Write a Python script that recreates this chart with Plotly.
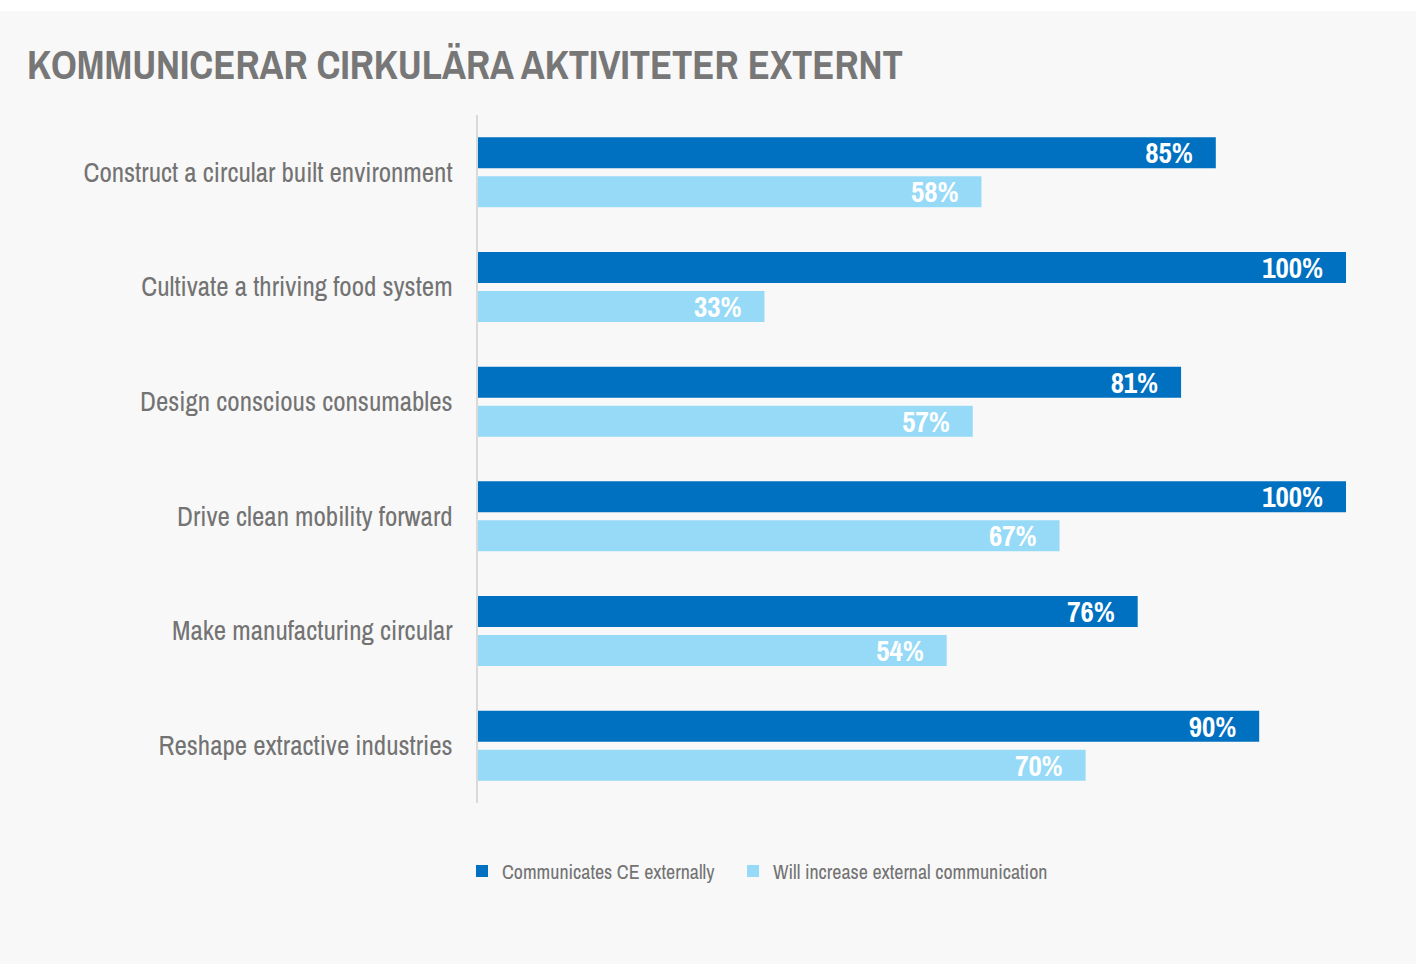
import plotly.graph_objects as go

# Circular-economy focus areas (top to bottom)
categories = [
    "Construct a circular built environment",
    "Cultivate a thriving food system",
    "Design conscious consumables",
    "Drive clean mobility forward",
    "Make manufacturing circular",
    "Reshape extractive industries",
]
communicates_pct = [85, 100, 81, 100, 76, 90]
will_increase_pct = [58, 33, 57, 67, 54, 70]
series_names = ["Communicates CE externally", "Will increase external communication"]

DARK = "#0070c0"
LIGHT = "#97daf7"
GREY_TEXT = "#737373"
BG = "#f8f8f8"
FONT = "Archivo Narrow, Roboto Condensed, Barlow Condensed, sans-serif"
PAD = "\u00a0\u00a0\u00a0"  # breathing room before the bar end

fig = go.Figure()
for i, (name, vals, color) in enumerate([
    (series_names[0], communicates_pct, DARK),
    (series_names[1], will_increase_pct, LIGHT),
]):
    fig.add_trace(go.Bar(
        y=categories,
        x=vals,
        name=name + ("\u00a0" * 3 if i == 0 else ""),
        orientation="h",
        marker=dict(color=color, line=dict(width=0)),
        text=[f"{v}%{PAD}" for v in vals],
        textposition="inside",
        insidetextanchor="end",
        constraintext="none",
        textfont=dict(family=FONT, size=29, color="white", weight="bold"),
        hoverinfo="skip",
    ))

W, H = 1416, 964
fig.update_layout(
    width=W,
    height=H,
    paper_bgcolor=BG,
    plot_bgcolor=BG,
    barmode="group",
    bargap=0.32,
    bargroupgap=0.205,
    margin=dict(l=478, r=70, t=115, b=161, pad=0),
    font=dict(family=FONT, color=GREY_TEXT),
    title=dict(
        text="<b>KOMMUNICERAR CIRKULÄRA AKTIVITETER EXTERNT</b>",
        font=dict(family=FONT, size=40.5, color="#777777"),
        x=27 / W, xanchor="left", xref="container",
        y=1 - 65 / H, yanchor="middle", yref="container",
    ),
    xaxis=dict(
        range=[0, 100],
        visible=False,
        fixedrange=True,
    ),
    yaxis=dict(
        autorange="reversed",
        showline=True,
        linecolor="#d9d9d9",
        linewidth=2,
        showgrid=False,
        ticks="",
        ticklabelstandoff=18,
        tickfont=dict(family=FONT, size=27, color=GREY_TEXT),
        fixedrange=True,
    ),
    legend=dict(
        orientation="h",
        xref="container", yref="container",
        x=462 / W, xanchor="left",
        y=1 - 871 / H, yanchor="middle",
        font=dict(family=FONT, size=20, color=GREY_TEXT),
        bgcolor="rgba(0,0,0,0)",
        itemclick=False,
        itemdoubleclick=False,
        traceorder="normal",
    ),
    shapes=[
        dict(
            type="rect", xref="paper", yref="paper",
            x0=-478 / 868, x1=1 + 70 / 868,
            y0=1 + 104 / 688, y1=1 + 115 / 688,
            fillcolor="white", line=dict(width=0), layer="below",
        )
    ],
    showlegend=True,
)

fig.write_html("out.html", config={"displayModeBar": False})
